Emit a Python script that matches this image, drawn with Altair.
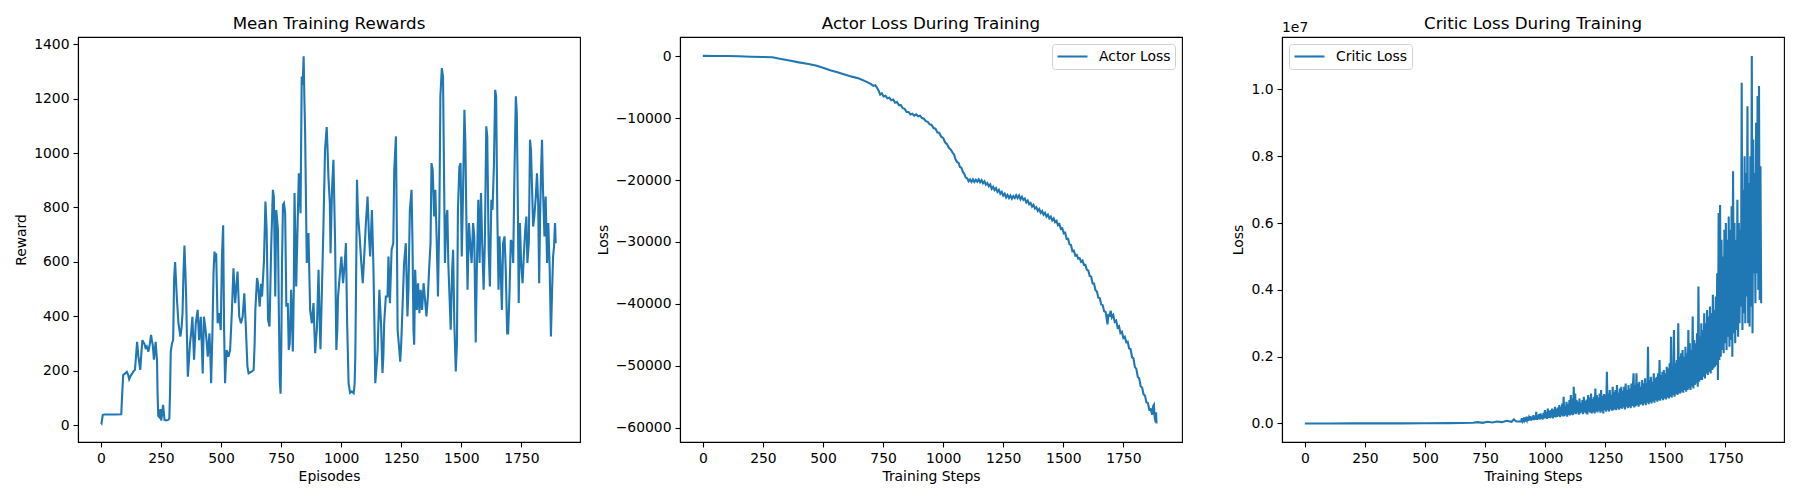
import altair as alt
import pandas as pd

# ---------------- data ----------------
episodes = [0, 3, 8, 15, 40, 60, 85, 88, 93, 100, 108, 114, 118, 124, 131, 137, 142, 147, 151, 156,
            160, 164, 169, 173, 177, 181, 186, 191, 198, 204, 209, 213, 216, 221, 225, 228, 231, 234, 236, 239,
            244, 248, 251, 255, 259, 262, 265, 272, 280, 285, 288, 291, 296, 301, 305, 309, 313, 316, 323, 331,
            336, 340, 344, 348, 352, 355, 359, 362, 366, 371, 376, 381, 388, 395, 403, 409, 416, 420, 424, 429,
            436, 441, 445, 452, 456, 459, 464, 469, 473, 477, 480, 486, 493, 499, 504, 509, 513, 517, 520, 524,
            531, 538, 545, 552, 559, 565, 569, 576, 583, 590, 597, 604, 610, 615, 622, 629, 636, 640, 643, 650,
            654, 661, 667, 671, 679, 685, 690, 696, 702, 709, 716, 720, 726, 730, 737, 741, 745, 748, 751, 754,
            758, 762, 767, 772, 778, 782, 786, 792, 799, 803, 806, 813, 820, 824, 831, 836, 840, 844, 847, 850,
            854, 857, 864, 871, 878, 885, 892, 896, 899, 906, 910, 914, 921, 926, 933, 937, 940, 944, 947, 953,
            956, 962, 968, 975, 980, 984, 987, 994, 1001, 1008, 1015, 1020, 1025, 1031, 1037, 1044, 1052, 1056, 1059, 1063,
            1066, 1070, 1077, 1083, 1090, 1096, 1103, 1110, 1116, 1121, 1128, 1134, 1139, 1142, 1146, 1152, 1159, 1166, 1172, 1176,
            1179, 1186, 1193, 1197, 1203, 1210, 1217, 1221, 1228, 1232, 1235, 1242, 1246, 1250, 1255, 1262, 1269, 1276, 1280, 1286,
            1293, 1297, 1301, 1304, 1308, 1315, 1320, 1326, 1331, 1337, 1343, 1348, 1355, 1361, 1366, 1372, 1376, 1381, 1387, 1392,
            1398, 1403, 1409, 1413, 1419, 1424, 1428, 1432, 1438, 1442, 1446, 1452, 1456, 1462, 1466, 1471, 1477, 1482, 1486, 1492,
            1497, 1502, 1507, 1513, 1517, 1521, 1526, 1532, 1538, 1543, 1549, 1554, 1560, 1565, 1571, 1576, 1582, 1587, 1593, 1598,
            1604, 1608, 1614, 1619, 1625, 1630, 1636, 1641, 1645, 1650, 1655, 1659, 1663, 1669, 1674, 1680, 1685, 1691, 1695, 1701,
            1706, 1712, 1716, 1721, 1727, 1731, 1735, 1739, 1744, 1749, 1755, 1760, 1766, 1771, 1775, 1781, 1786, 1790, 1795, 1799,
            1804, 1810, 1815, 1820, 1824, 1828, 1832, 1836, 1840, 1846, 1851, 1857, 1862, 1868, 1873, 1878, 1882, 1886, 1890, 1893]
rewards = [12, 8, 38, 40, 40, 40, 41, 100, 185, 190, 197, 185, 170, 182, 191, 200, 204, 260, 307, 255,
           230, 204, 270, 313, 305, 301, 285, 290, 271, 300, 332, 310, 296, 241, 280, 307, 270, 235, 120, 35,
           30, 60, 18, 40, 75, 50, 20, 18, 20, 25, 120, 271, 301, 313, 540, 600, 530, 473, 375, 326,
           360, 412, 560, 660, 560, 473, 300, 179, 230, 301, 340, 399, 241, 375, 424, 313, 399, 300, 191, 399,
           350, 300, 252, 338, 250, 155, 326, 560, 638, 600, 632, 375, 412, 350, 620, 735, 350, 155, 220, 277,
           252, 277, 412, 577, 449, 520, 565, 399, 375, 399, 485, 350, 216, 191, 195, 198, 204, 300, 424, 541,
           522, 436, 520, 473, 608, 822, 718, 387, 363, 657, 865, 840, 473, 791, 718, 400, 160, 116, 290, 596,
           810, 816, 780, 436, 449, 277, 300, 498, 271, 500, 853, 510, 779, 926, 779, 1281, 1250, 1355, 1200, 1085,
           800, 596, 706, 424, 375, 449, 265, 320, 351, 571, 400, 280, 534, 718, 1012, 1060, 1095, 1000, 914, 816,
           632, 865, 975, 669, 277, 350, 473, 547, 620, 522, 596, 669, 375, 155, 120, 125, 118, 150, 253, 600,
           902, 779, 694, 608, 522, 620, 743, 840, 694, 620, 791, 596, 350, 155, 200, 277, 498, 375, 192, 260,
           375, 473, 473, 620, 449, 645, 669, 938, 1061, 700, 351, 277, 234, 300, 424, 596, 669, 400, 498, 791,
           865, 669, 350, 296, 571, 424, 522, 412, 498, 424, 522, 473, 400, 473, 571, 669, 963, 938, 767, 865,
           669, 473, 791, 1208, 1312, 1281, 938, 596, 767, 791, 596, 449, 351, 571, 645, 375, 198, 302, 791, 950,
           963, 620, 840, 1159, 1036, 767, 498, 743, 657, 596, 743, 694, 304, 596, 828, 596, 853, 669, 498, 669,
           1098, 1061, 645, 510, 828, 791, 963, 1232, 1208, 767, 498, 694, 596, 424, 669, 694, 571, 338, 338, 498,
           681, 669, 596, 914, 1208, 1147, 840, 449, 743, 596, 522, 620, 718, 767, 596, 669, 1049, 1012, 853, 730,
           767, 840, 926, 816, 522, 767, 938, 1049, 865, 694, 840, 596, 743, 571, 326, 498, 620, 657, 743, 669]

actor_steps = [0, 50, 100, 150, 200, 250, 290, 320, 360, 400, 440, 470, 500, 530, 560, 590, 620, 650, 680, 700,
               710, 718, 725, 732, 738, 745, 752, 760, 768, 776, 784, 792, 800, 808, 816, 824, 832, 840, 848, 856,
               864, 872, 880, 888, 896, 904, 912, 920, 928, 936, 944, 952, 960, 968, 976, 984, 992, 1000, 1008, 1016,
               1024, 1032, 1040, 1046, 1050, 1058, 1064, 1070, 1076, 1082, 1088, 1094, 1100, 1106, 1112, 1118, 1124, 1130, 1136, 1142,
               1148, 1154, 1160, 1166, 1172, 1178, 1184, 1190, 1196, 1202, 1208, 1214, 1220, 1226, 1232, 1238, 1244, 1250, 1256, 1262,
               1268, 1274, 1280, 1286, 1292, 1298, 1304, 1310, 1316, 1322, 1328, 1334, 1340, 1346, 1352, 1358, 1364, 1370, 1376, 1382,
               1388, 1394, 1400, 1406, 1412, 1418, 1424, 1430, 1436, 1442, 1448, 1454, 1460, 1466, 1472, 1478, 1484, 1490, 1496, 1502,
               1508, 1514, 1520, 1526, 1532, 1538, 1544, 1550, 1556, 1562, 1568, 1574, 1580, 1586, 1592, 1598, 1604, 1610, 1616, 1622,
               1628, 1634, 1640, 1646, 1652, 1658, 1664, 1670, 1676, 1680, 1684, 1688, 1692, 1697, 1702, 1708, 1714, 1720, 1726, 1732,
               1738, 1744, 1750, 1756, 1762, 1768, 1774, 1780, 1786, 1792, 1798, 1804, 1810, 1816, 1822, 1828, 1834, 1840, 1846, 1852,
               1858, 1864, 1870, 1874, 1877, 1880, 1884, 1886, 1888]
actor_loss = [50, 40, 20, -20, -80, -140, -160, -400, -700, -1000, -1250, -1500, -1850, -2250, -2600, -2950, -3300, -3600, -4100, -4500,
              -4800, -4700, -5100, -5600, -6200, -6000, -6500, -6400, -6800, -6700, -7100, -7000, -7500, -7400, -7900, -7900, -8400, -8500, -9000, -9000,
              -9400, -9300, -9600, -9400, -9700, -9600, -10000, -10100, -10500, -10600, -11000, -11100, -11600, -11700, -12300, -12400, -13000, -13200, -13900, -14200,
              -14800, -15100, -15600, -15900, -16500, -17100, -17200, -17900, -18000, -18700, -19000, -19600, -19700, -20200, -19900, -20300, -19900, -20300, -19950, -20250,
              -19900, -20350, -20000, -20500, -20200, -20750, -20500, -21000, -20700, -21400, -21100, -21600, -21300, -21900, -21600, -22200, -21900, -22500, -22200, -22800,
              -22400, -22900, -22500, -23000, -22600, -22900, -22450, -22900, -22500, -23100, -22700, -23200, -23000, -23600, -23300, -23900, -23700, -24300, -24000, -24600,
              -24400, -25000, -24700, -25300, -25000, -25600, -25300, -25900, -25600, -26200, -25900, -26500, -26200, -26800, -26600, -27300, -27100, -27900, -27800, -28600,
              -28500, -29500, -29500, -30400, -30500, -31500, -31400, -32200, -32100, -32700, -32600, -33200, -33000, -33700, -33700, -34500, -34600, -35500, -35600, -36700,
              -36700, -37800, -38000, -39000, -39100, -40100, -40200, -41200, -41300, -42200, -43300, -41600, -42100, -41100, -42200, -41800, -42900, -42700, -43800, -43600,
              -44700, -44500, -45500, -45300, -46200, -46100, -47200, -47300, -48600, -48800, -50200, -50500, -51800, -52000, -53300, -53500, -54600, -54800, -55900, -56000,
              -57100, -57000, -57900, -56500, -56300, -58200, -59100, -57500, -59300]

# critic loss (units of 1e7): sparse early part, then one reading every 3 steps from step 900
critic_steps = [0, 100, 200, 300, 400, 500, 600, 650, 700, 720, 740, 760, 780, 800, 820, 840, 860, 870, 880] + list(range(900, 1900, 3))
critic_loss = [0.0002, 0.0002, 0.0003, 0.0004, 0.0005, 0.0007, 0.001, 0.0015, 0.002, 0.004,
               0.002, 0.005, 0.003, 0.006, 0.004, 0.008, 0.005, 0.012, 0.006,
               # 900
               .006, .016, .007, .012, .008, .018, .006, .014, .009, .02,
               .008, .017, .01, .022, .009, .019, .011, .025, .01, .021,
               .012, .035, .011, .024, .013, .028, .012, .03, .014, .026,
               .012, .032, .015, .04, .016, .034, .014, .045, .017, .038,
               # 1020
               .016, .04, .018, .045, .015, .042, .02, .05, .018, .044,
               .02, .048, .022, .055, .019, .05, .024, .06, .021, .08,
               .022, .052, .025, .065, .02, .058, .026, .07, .024, .085,
               .027, .075, .025, .11, .03, .09, .028, .07, .032, .065,
               # 1140
               .026, .075, .03, .062, .033, .07, .028, .08, .034, .068,
               .03, .072, .027, .085, .035, .078, .032, .09, .03, .074,
               .034, .08, .03, .105, .036, .085, .033, .078, .038, .09,
               .032, .1, .036, .082, .03, .088, .04, .085, .035, .155,
               # 1260
               .04, .09, .036, .1, .042, .085, .038, .11, .04, .095,
               .043, .1, .04, .115, .045, .092, .041, .105, .046, .11,
               .044, .098, .048, .11, .042, .12, .05, .1, .046, .115,
               .05, .105, .046, .12, .052, .11, .15, .048, .115, .052,
               # 1380
               .15, .055, .12, .05, .125, .056, .11, .058, .13, .054,
               .12, .06, .135, .055, .12, .062, .23, .058, .13, .064,
               .14, .06, .125, .066, .15, .062, .135, .07, .14, .065,
               .15, .07, .19, .068, .145, .074, .155, .07, .16, .075,
               # 1500
               .15, .072, .17, .078, .165, .075, .18, .08, .26, .078,
               .17, .085, .28, .08, .18, .088, .19, .085, .3, .09,
               .2, .09, .21, .095, .22, .092, .2, .1, .23, .095,
               .21, .1, .28, .105, .24, .1, .22, .11, .32, .105,
               # 1620
               .25, .115, .24, .12, .27, .11, .41, .125, .26, .13,
               .3, .13, .28, .14, .33, .135, .3, .15, .34, .145,
               .32, .155, .35, .15, .33, .16, .385, .165, .34, .17,
               .38, .175, .45, .13, .63, .19, .654, .2, .55, .22,
               # 1740
               .5, .21, .58, .24, .6, .22, .55, .26, .62, .23,
               .58, .25, .65, .2, .755, .27, .6, .24, .55, .28,
               .67, .26, .6, .3, .58, .35, 1.02, .28, .7, .33,
               .8, .3, .75, .38, .95, .3, .72, .29, .8, .35,
               # 1860
               1.10, .27, .85, .45, .75, .36, .9, .45, .98, .4,
               1.01, .37, .77, .36]

titles = ["Mean Training Rewards", "Actor Loss During Training", "Critic Loss During Training"]

# ---------------- styling ----------------
BLUE = "#1f77b4"
FONT = "DejaVu Sans"
FS = 13.9
TFS = 16.7
W, H = 502, 405

x_ticks = [0, 250, 500, 750, 1000, 1250, 1500, 1750]
xscale = alt.Scale(domain=[-95, 1994], nice=False, zero=False)


def title_mark(t):
    return alt.Chart(pd.DataFrame({"t": [t]})).mark_text(
        align="center", baseline="alphabetic", font=FONT, fontSize=TFS, color="black"
    ).encode(text="t:N", x=alt.value(W / 2), y=alt.value(-8.3))


def legend(orient):
    return alt.Legend(orient=orient, title=None, offset=7, padding=4,
                      fillColor="rgba(255,255,255,0.8)", strokeColor="#d0d0d0", cornerRadius=3,
                      symbolType="stroke", symbolSize=900, symbolStrokeWidth=2.1,
                      labelFont=FONT, labelFontSize=FS, labelColor="black", labelOffset=10,
                      clipHeight=17)


df1 = pd.DataFrame({"episode": episodes, "reward": rewards})
df2 = pd.DataFrame({"step": actor_steps, "loss": actor_loss, "series": "Actor Loss"})
df3 = pd.DataFrame({"step": critic_steps, "loss": critic_loss, "series": "Critic Loss"})

l1 = alt.Chart(df1).mark_line(color=BLUE, strokeWidth=2.1).encode(
    x=alt.X("episode:Q", scale=xscale, axis=alt.Axis(values=x_ticks, format="d", title="Episodes")),
    y=alt.Y("reward:Q", scale=alt.Scale(domain=[-61, 1426], nice=False, zero=False),
            axis=alt.Axis(values=[0, 200, 400, 600, 800, 1000, 1200, 1400], format="d", title="Reward")),
)
p1 = alt.layer(l1, title_mark(titles[0])).properties(width=W, height=H)

l2 = alt.Chart(df2).mark_line(strokeWidth=2.1).encode(
    x=alt.X("step:Q", scale=xscale, axis=alt.Axis(values=x_ticks, format="d", title="Training Steps")),
    y=alt.Y("loss:Q", scale=alt.Scale(domain=[-62300, 3100], nice=False, zero=False),
            axis=alt.Axis(values=[0, -10000, -20000, -30000, -40000, -50000, -60000], format="d", title="Loss")),
    color=alt.Color("series:N", scale=alt.Scale(range=[BLUE]), legend=legend("top-right")),
)
p2 = alt.layer(l2, title_mark(titles[1])).properties(width=W, height=H)

l3 = alt.Chart(df3).mark_line(strokeWidth=2.1).encode(
    x=alt.X("step:Q", scale=xscale, axis=alt.Axis(values=x_ticks, format="d", title="Training Steps")),
    y=alt.Y("loss:Q", scale=alt.Scale(domain=[-0.0554, 1.157], nice=False, zero=False),
            axis=alt.Axis(values=[0, 0.2, 0.4, 0.6, 0.8, 1.0], format=".1f", title="Loss")),
    color=alt.Color("series:N", scale=alt.Scale(range=[BLUE]), legend=legend("top-left")),
)
c_off = alt.Chart(pd.DataFrame({"t": ["1e7"]})).mark_text(
    align="left", baseline="alphabetic", font=FONT, fontSize=FS, color="black"
).encode(text="t:N", x=alt.value(0), y=alt.value(-5))

p3 = alt.layer(l3, c_off, title_mark(titles[2])).properties(width=W, height=H)

chart = alt.hconcat(p1, p2, p3, spacing=100, bounds="flush").resolve_scale(
    x="independent", y="independent", color="independent"
).resolve_legend(color="independent").properties(
    padding={"left": 6, "top": 7, "right": 5, "bottom": 5}
).configure_view(stroke="black", strokeWidth=1.1).configure_axis(
    labelFont=FONT, labelFontSize=FS, labelColor="black",
    titleFont=FONT, titleFontSize=FS, titleColor="black", titleFontWeight="normal",
    tickColor="black", tickSize=5, tickWidth=1.1, domainColor="black", domainWidth=1.1,
    grid=False, labelPadding=4, titlePadding=5,
)

chart.save("out.html", embed_options={"renderer": "svg", "actions": False})
